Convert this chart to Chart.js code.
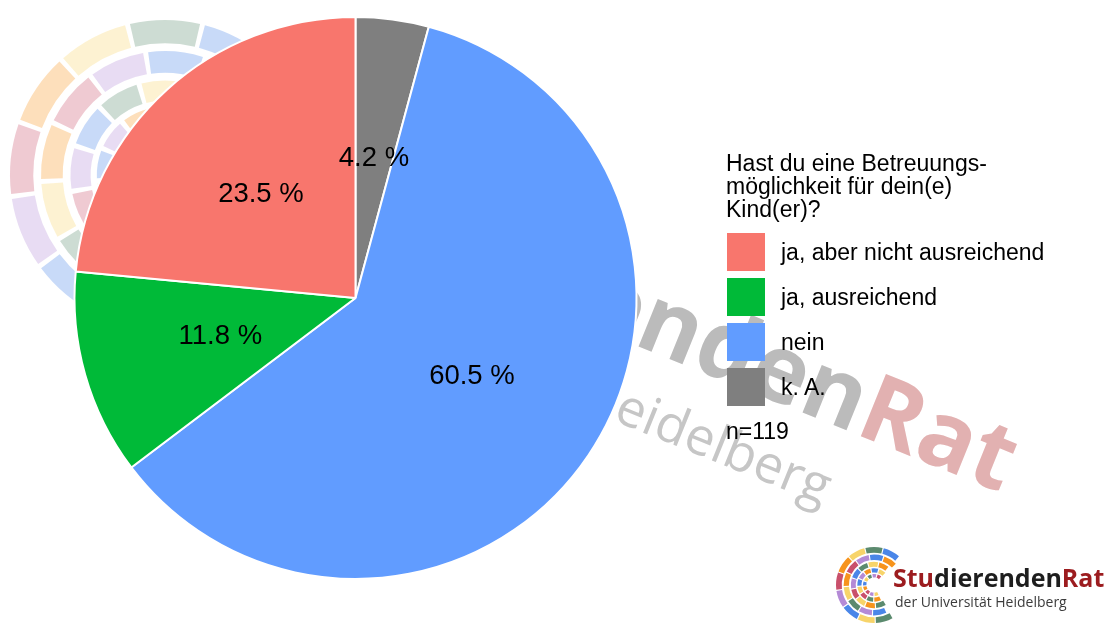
<!DOCTYPE html>
<html>
<head>
<meta charset="utf-8">
<script src="https://cdn.jsdelivr.net/npm/chart.js@4.4.0/dist/chart.umd.min.js"></script>
<style>
  body { margin: 0; background: #fff; }
  #wrap { position: relative; width: 1117px; height: 625px; overflow: hidden; }
  #chart { position: absolute; left: 0; top: 0; }
  .txt { position: absolute; font-family: 'Liberation Sans', Arial, sans-serif; font-size: 23px; color: #000; white-space: nowrap; }
  .box { position: absolute; width: 38px; height: 38px; }
  .logo { position: absolute; font-family: 'Open Sans', sans-serif; white-space: nowrap; }
</style>
</head>
<body>
<div id="wrap">
  <canvas id="chart" width="1117" height="625"></canvas>
  <div id="legend"></div>
  <div class="logo" style="left:893px; top:564px; font-size:25px; line-height:27px; font-weight:700;"><span style="color:#9c1c1f">Stu</span><span style="color:#1e1e1e">dierenden</span><span style="color:#9c1c1f">Rat</span></div>
  <div class="logo" style="left:895px; top:595px; font-size:14px; line-height:14px; color:#3c3c3c;">der Universität Heidelberg</div>
</div>
<script>
// daten
const categories = ['ja, aber nicht ausreichend', 'ja, ausreichend', 'nein', 'k. A.'];
const shares = [23.5, 11.8, 60.5, 4.2];
const shareLabels = ['23.5 %', '11.8 %', '60.5 %', '4.2 %'];
const colors = ['#f8766d', '#00ba38', '#619cff', '#7f7f7f'];
const legendTitle = ['Hast du eine Betreuungs-', 'möglichkeit für dein(e)', 'Kind(er)?'];
const sampleNote = 'n=119';

// im kreis im uhrzeigersinn ab oben: k. A., nein, ja ausreichend, ja aber nicht
const order = [3, 2, 1, 0];

// farben vom logo
const logoCols = { B: '#4a86e8', G: '#5b8a6e', Y: '#f7d46a', O: '#f7941d', P: '#c9506b', U: '#b48ad6' };
const rings = [
  { r0: 0.85, r1: 1.0, start: -62, cols: 'BGYOPUBYG' },
  { r0: 0.66, r1: 0.80, start: -57, cols: 'OBUPOYGUB' },
  { r0: 0.48, r1: 0.61, start: -64, cols: 'OYGBUPYOG' },
  { r0: 0.33, r1: 0.44, start: -59, cols: 'YBOUBYPGO' },
  { r0: 0.20, r1: 0.29, start: -60, cols: 'PUGYBOPUY' }
];

function drawRings(ctx, cx, cy, R, alpha) {
  ctx.save();
  ctx.globalAlpha = alpha;
  rings.forEach(ring => {
    let ri = ring.r0 * R, ro = ring.r1 * R;
    let gap = (0.03 * R) / ((ri + ro) / 2);
    for (let k = 0; k < ring.cols.length; k++) {
      let c = (ring.start - 28 * k) * Math.PI / 180;
      let h = 14 * Math.PI / 180 - gap / 2;
      ctx.beginPath();
      ctx.arc(cx, cy, ro, c - h, c + h);
      ctx.arc(cx, cy, ri, c + h, c - h, true);
      ctx.closePath();
      ctx.fillStyle = logoCols[ring.cols[k]];
      ctx.fill();
    }
  });
  ctx.restore();
}

const watermark = {
  id: 'watermark',
  beforeDatasetsDraw(chart) {
    let ctx = chart.ctx;
    drawRings(ctx, 165, 175, 155, 0.3);
    ctx.save();
    let ang = 22 * Math.PI / 180;
    // zeile 1
    ctx.translate(853, 433);
    ctx.rotate(ang);
    ctx.font = 'bold 94px "Open Sans"';
    ctx.textBaseline = 'alphabetic';
    ctx.textAlign = 'right';
    ctx.fillStyle = '#bbbbbb';
    ctx.fillText('Studierenden', 0, 0);
    ctx.textAlign = 'left';
    ctx.fillStyle = '#e2b1b1';
    ctx.fillText('Rat', 0, 0);
    ctx.restore();
    // zeile 2
    ctx.save();
    ctx.translate(612, 420);
    ctx.rotate(ang);
    ctx.font = '52px "Open Sans"';
    ctx.fillStyle = '#c6c6c6';
    ctx.textAlign = 'right';
    ctx.fillText('der Universität H', 0, 0);
    ctx.textAlign = 'left';
    ctx.fillText('eidelberg', 0, 0);
    ctx.restore();
  },
  afterDraw(chart) {
    drawRings(chart.ctx, 874, 585, 38, 1);
  }
};

const sliceLabels = {
  id: 'sliceLabels',
  afterDatasetsDraw(chart) {
    let ctx = chart.ctx;
    let meta = chart.getDatasetMeta(0);
    ctx.save();
    ctx.font = '27.5px "Liberation Sans", Arial';
    ctx.fillStyle = '#000';
    ctx.textAlign = 'center';
    ctx.textBaseline = 'middle';
    meta.data.forEach((arc, i) => {
      let p = arc.tooltipPosition();
      ctx.fillText(shareLabels[order[i]], p.x, p.y);
    });
    ctx.restore();
  }
};

new Chart(document.getElementById('chart'), {
  type: 'pie',
  data: {
    labels: order.map(i => categories[i]),
    datasets: [{
      data: order.map(i => shares[i]),
      backgroundColor: order.map(i => colors[i]),
      borderColor: '#ffffff',
      borderWidth: 2
    }]
  },
  options: {
    responsive: false,
    animation: false,
    devicePixelRatio: 1,
    layout: { padding: { left: 73, right: 479, top: 16, bottom: 45 } },
    plugins: { legend: { display: false }, tooltip: { enabled: false } }
  },
  plugins: [watermark, sliceLabels]
});

// legende
let wrap = document.getElementById('wrap');
let title = document.createElement('div');
title.className = 'txt';
title.style.left = '726px';
title.style.top = '152px';
title.style.lineHeight = '23px';
title.innerHTML = legendTitle.join('<br>');
wrap.appendChild(title);

categories.forEach((cat, i) => {
  let top = 233 + 45 * i;
  let box = document.createElement('div');
  box.className = 'box';
  box.style.left = '727px';
  box.style.top = top + 'px';
  box.style.background = colors[i];
  wrap.appendChild(box);
  let lab = document.createElement('div');
  lab.className = 'txt';
  lab.style.left = '781px';
  lab.style.top = top + 'px';
  lab.style.lineHeight = '38px';
  lab.textContent = cat;
  wrap.appendChild(lab);
});

let note = document.createElement('div');
note.className = 'txt';
note.style.left = '726px';
note.style.top = '420px';
note.style.lineHeight = '23px';
note.textContent = sampleNote;
wrap.appendChild(note);
</script>
</body>
</html>
